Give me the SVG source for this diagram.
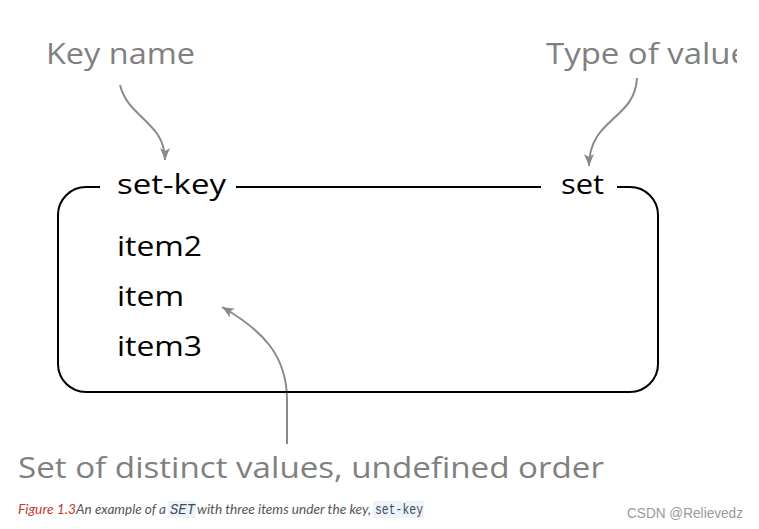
<svg xmlns="http://www.w3.org/2000/svg" width="759" height="529" viewBox="0 0 759 529">
  <defs>
    <style>
      .lbl { font-family: "Open Sans", "Noto Sans", "DejaVu Sans", sans-serif; font-size: 30px; fill: #808080; }
      .box-text { font-family: "Open Sans", "Noto Sans", "DejaVu Sans", sans-serif; font-size: 28px; fill: #000; }
      .box { fill: none; stroke: #000; stroke-width: 2; }
      .arrow { fill: none; stroke: #8a8a8a; stroke-width: 2; marker-end: url(#ah); }
      .cap { font-family: Lato, "Open Sans", sans-serif; font-style: italic; font-size: 13px; }
      .code { font-family: "Liberation Mono", "DejaVu Sans Mono", monospace; font-size: 14px; fill: #3a4a60; }
      .codebg { fill: #eef3fa; }
    </style>
    <marker id="ah" markerUnits="userSpaceOnUse" markerWidth="14" markerHeight="12" refX="12" refY="5" orient="auto">
      <path d="M0,0 L12,5 L0,10 L3,5 z" fill="#8a8a8a"/>
    </marker>
    <clipPath id="clipR">
      <rect x="0" y="0" width="737" height="529"/>
    </clipPath>
  </defs>
  <rect width="759" height="529" fill="#fff"/>

  <g id="connectors">
    <path class="arrow" d="M120,85 C128,118 165,122 165,160"/>
    <path class="arrow" d="M637,78 C635,120 589,118 589,166"/>
    <path class="arrow" d="M287,444 V400 C287,355 262,330 222,307"/>
  </g>

  <g id="set-box">
    <path class="box" d="M100,187 H86 A28,28 0 0 0 58,215 V364 A28,28 0 0 0 86,392 H630 A28,28 0 0 0 658,364 V215 A28,28 0 0 0 630,187 H617"/>
    <path class="box" d="M236,187 H541"/>
    <text class="box-text" x="117" y="194" textLength="109" lengthAdjust="spacingAndGlyphs">set-key</text>
    <text class="box-text" x="561" y="194" textLength="43" lengthAdjust="spacingAndGlyphs">set</text>
    <text class="box-text" x="117" y="256" textLength="85" lengthAdjust="spacingAndGlyphs">item2</text>
    <text class="box-text" x="117" y="306" textLength="67" lengthAdjust="spacingAndGlyphs">item</text>
    <text class="box-text" x="117" y="356" textLength="85" lengthAdjust="spacingAndGlyphs">item3</text>
  </g>

  <g id="key-name">
    <text class="lbl" x="46" y="64" textLength="149" lengthAdjust="spacingAndGlyphs">Key name</text>
  </g>

  <g id="type-of-value" clip-path="url(#clipR)">
    <text class="lbl" x="546" y="64" textLength="203" lengthAdjust="spacingAndGlyphs">Type of value</text>
  </g>

  <g id="set-desc">
    <text class="lbl" x="18" y="478" textLength="586" lengthAdjust="spacingAndGlyphs">Set of distinct values, undefined order</text>
  </g>

  <g id="caption">
    <text class="cap" x="18" y="514" fill="#c0392b" textLength="58" lengthAdjust="spacingAndGlyphs">Figure 1.3</text>
    <text class="cap" x="76" y="514" fill="#555" textLength="90" lengthAdjust="spacingAndGlyphs">An example of a</text>
    <rect class="codebg" x="168" y="501" width="28" height="17"/>
    <text class="code" x="170" y="514" font-style="italic" textLength="25" lengthAdjust="spacingAndGlyphs">SET</text>
    <text class="cap" x="197" y="514" fill="#555" textLength="174" lengthAdjust="spacingAndGlyphs">with three items under the key,</text>
    <rect class="codebg" x="373" y="501" width="51" height="17"/>
    <text class="code" x="375" y="514" textLength="48" lengthAdjust="spacingAndGlyphs">set-key</text>
  </g>

  <g id="watermark">
    <text x="627" y="518" font-family="Liberation Sans, Arial, sans-serif" font-size="14" fill="#9a9a9a" textLength="116" lengthAdjust="spacingAndGlyphs">CSDN @Relievedz</text>
  </g>
</svg>
